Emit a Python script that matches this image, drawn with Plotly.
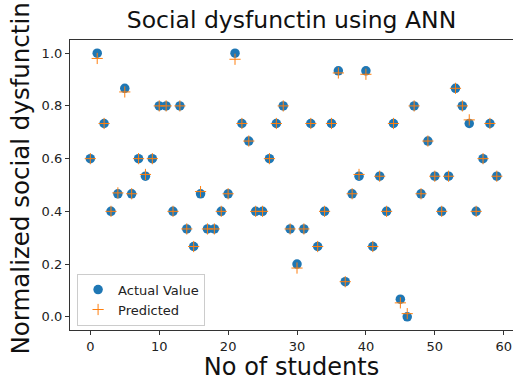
import plotly.graph_objects as go

students = list(range(60))
actual = [0.6, 1.0, 0.7333, 0.4, 0.4667, 0.8667, 0.4667, 0.6, 0.5333, 0.6,
          0.8, 0.8, 0.4, 0.8, 0.3333, 0.2667, 0.4667, 0.3333, 0.3333, 0.4,
          0.4667, 1.0, 0.7333, 0.6667, 0.4, 0.4, 0.6, 0.7333, 0.8, 0.3333,
          0.2, 0.3333, 0.7333, 0.2667, 0.4, 0.7333, 0.9333, 0.1333, 0.4667, 0.5333,
          0.9333, 0.2667, 0.5333, 0.4, 0.7333, 0.0667, 0.0, 0.8, 0.4667, 0.6667,
          0.5333, 0.4, 0.5333, 0.8667, 0.8, 0.7333, 0.4, 0.6, 0.7333, 0.5333]
predicted = [0.6, 0.98, 0.7333, 0.4, 0.47, 0.853, 0.4667, 0.6, 0.54, 0.6,
             0.8, 0.8, 0.4, 0.8, 0.3333, 0.2667, 0.475, 0.3333, 0.3333, 0.4,
             0.4667, 0.977, 0.7333, 0.6667, 0.4, 0.4, 0.6, 0.7333, 0.8, 0.3333,
             0.185, 0.3333, 0.7333, 0.2667, 0.4, 0.7333, 0.925, 0.1333, 0.4667, 0.54,
             0.92, 0.2667, 0.5333, 0.4, 0.7333, 0.053, 0.012, 0.8, 0.4667, 0.6667,
             0.5333, 0.4, 0.5333, 0.8667, 0.8, 0.747, 0.4, 0.6, 0.7333, 0.5333]

FONT = "DejaVu Sans"

fig = go.Figure()
fig.add_trace(go.Scatter(
    x=students, y=actual, mode="markers", name="Actual Value",
    marker=dict(symbol="circle", size=9.5, color="#1f77b4", line=dict(width=0)),
))
fig.add_trace(go.Scatter(
    x=students, y=predicted, mode="markers", name="Predicted",
    marker=dict(symbol="cross-thin", size=8, color="#ff7f0e",
                line=dict(width=1, color="#ff7f0e")),
))

fig.update_layout(
    width=513, height=381,
    margin=dict(l=70, r=0, t=40, b=51),
    paper_bgcolor="white", plot_bgcolor="white",
    font=dict(family=FONT, color="#222222"),
    title=dict(text="Social dysfunctin using ANN", x=0.5, xref="paper",
               y=1 - 20 / 381, yref="container", yanchor="middle", xanchor="center",
               font=dict(size=23.5, color="#111111", family=FONT)),
    showlegend=True,
    legend=dict(x=0.016, y=0.015, xanchor="left", yanchor="bottom",
                bgcolor="white", bordercolor="#cccccc", borderwidth=1,
                font=dict(size=13, family=FONT, color="#222222"),
                itemsizing="trace"),
    annotations=[dict(
        text="Normalized social dysfunctin", textangle=-90,
        xref="paper", yref="paper", x=(20 - 70) / 443, y=(330.5 - 179) / 290,
        xanchor="center", yanchor="middle", showarrow=False,
        font=dict(size=24.5, family=FONT, color="#111111"),
    )],
)
fig.update_xaxes(
    range=[-2.95, 61.35], tickmode="array", tickvals=[0, 10, 20, 30, 40, 50, 60],
    ticks="outside", ticklen=4, tickcolor="#333333", showgrid=False, zeroline=False,
    showline=True, linecolor="#333333", linewidth=1.2, mirror=True,
    tickfont=dict(size=13, family=FONT, color="#222222"),
    title=dict(text="No of students", font=dict(size=24, family=FONT, color="#111111"), standoff=5),
)
fig.update_yaxes(
    range=[-0.05, 1.05], tickmode="array", tickvals=[0, 0.2, 0.4, 0.6, 0.8, 1.0],
    ticktext=["0.0", "0.2", "0.4", "0.6", "0.8", "1.0"],
    ticks="outside", ticklen=4, tickcolor="#333333", showgrid=False, zeroline=False,
    showline=True, linecolor="#333333", linewidth=1.2, mirror=False,
    tickfont=dict(size=13, family=FONT, color="#222222"),
)

fig.write_html("out.html")
